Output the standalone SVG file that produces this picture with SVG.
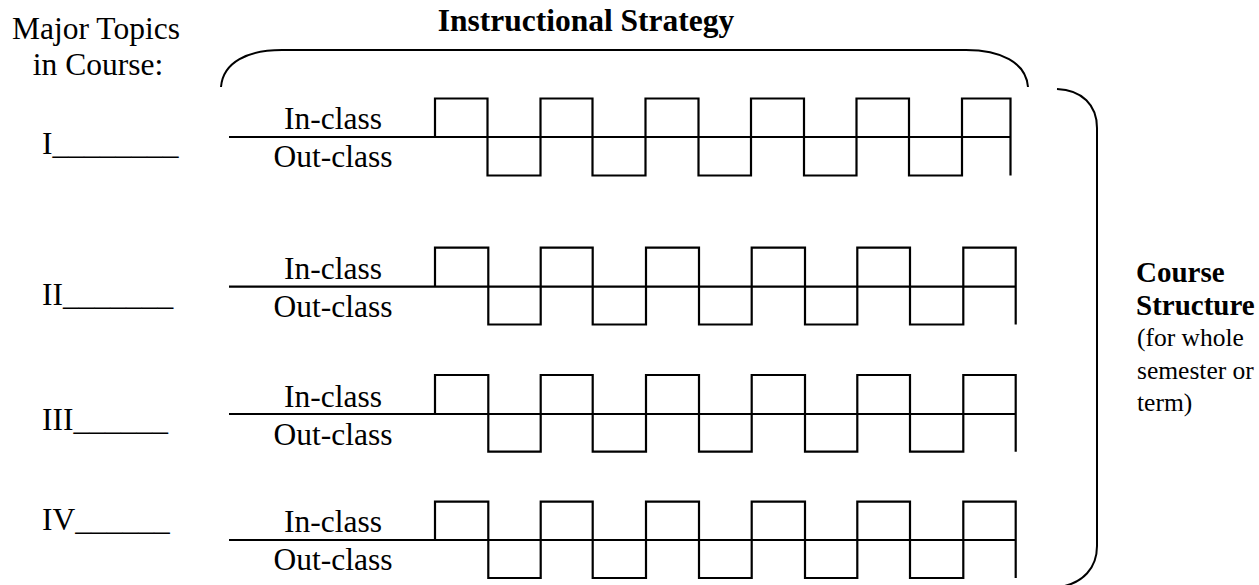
<svg xmlns="http://www.w3.org/2000/svg" width="1259" height="585" viewBox="0 0 1259 585">
<style>
text{font-family:"Liberation Serif","Times New Roman",serif;font-size:31.5px;fill:#000}
.b{font-weight:bold}
.m{text-anchor:middle}
.cb{font-weight:bold;font-size:29px}
.cs{font-size:25.5px}
.w{fill:none;stroke:#000;stroke-width:2.2}
.br{fill:none;stroke:#000;stroke-width:2}
</style>
<rect width="1259" height="585" fill="#fff"/>
<g id="header">
<text class="m" x="96" y="39">Major Topics</text>
<text class="m" x="98" y="75">in Course:</text>
<text class="b m" x="586" y="31">Instructional Strategy</text>
</g>
<g id="brackets">
<path class="br" d="M221,87 C223,62 248,50 282,50 L966,50 C1000,50 1026,62 1028,87"/>
<path class="br" d="M1057,89 C1082,90 1097,105 1097,128 L1097,546 C1097,568 1083,583 1060,587"/>
</g>
<g id="course-structure">
<text class="cb" x="1136" y="282">Course</text>
<text class="cb" x="1136" y="315">Structure</text>
<text class="cs" x="1137" y="346">(for whole</text>
<text class="cs" x="1137" y="379">semester or</text>
<text class="cs" x="1137" y="411">term)</text>
</g>
<g id="topic-1">
<text x="42" y="154">I________</text>
<text class="m" x="333" y="129">In-class</text>
<text class="m" x="333" y="167">Out-class</text>
<path class="w" d="M229,137 H1010.5"/>
<path class="w" d="M435,137 V98.5 H487.5 V175.5 H540.5 V98.5 H592.5 V175.5 H645.5 V98.5 H698.5 V175.5 H751 V98.5 H804 V175.5 H856.5 V98.5 H909 V175.5 H962 V98.5 H1010.5 V175.5"/>
</g>
<g id="topic-2">
<text x="42" y="305">II_______</text>
<text class="m" x="333" y="279">In-class</text>
<text class="m" x="333" y="317">Out-class</text>
<path class="w" d="M229,286.7 H1015.7"/>
<path class="w" d="M435,286.7 V247.7 H488.3 V324.5 H540.7 V247.7 H592.7 V324.5 H646 V247.7 H699 V324.5 H751.7 V247.7 H805 V324.5 H857.3 V247.7 H910 V324.5 H963.3 V247.7 H1015.7 V324.5"/>
</g>
<g id="topic-3">
<text x="42" y="430">III______</text>
<text class="m" x="333" y="406.5">In-class</text>
<text class="m" x="333" y="444.5">Out-class</text>
<path class="w" d="M229,414 H1015.7"/>
<path class="w" d="M435,414 V375 H488.3 V451.7 H540.7 V375 H592.7 V451.7 H646 V375 H699 V451.7 H751.7 V375 H805 V451.7 H857.3 V375 H910 V451.7 H963.3 V375 H1015.7 V451.7"/>
</g>
<g id="topic-4">
<text x="42" y="530">IV______</text>
<text class="m" x="333" y="532">In-class</text>
<text class="m" x="333" y="570">Out-class</text>
<path class="w" d="M229,540 H1015.7"/>
<path class="w" d="M435,540 V501.7 H488.3 V578 H540.7 V501.7 H592.7 V578 H646 V501.7 H699 V578 H751.7 V501.7 H805 V578 H857.3 V501.7 H910 V578 H963.3 V501.7 H1015.7 V578"/>
</g>
</svg>
